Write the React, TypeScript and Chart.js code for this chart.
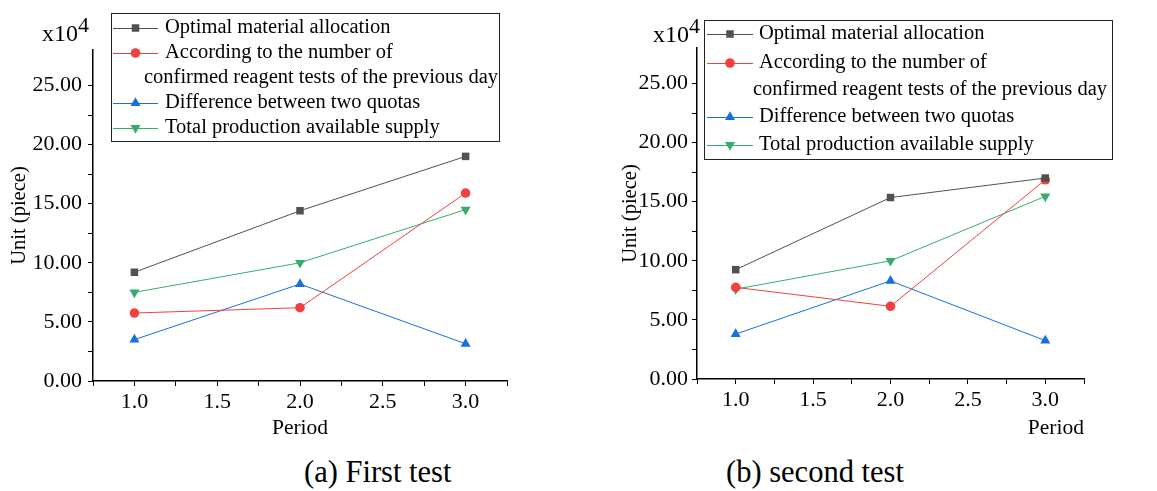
import React, { useEffect, useRef } from 'react';
import { Chart, registerables } from 'chart.js';

Chart.register(...registerables);

// ---------- data ----------
const periods = [1.0, 2.0, 3.0];
const seriesNames = [
  'Optimal material allocation',
  'According to the number of',
  'Difference between two quotas',
  'Total production available supply',
];
const secondLineOfSeries2 = 'confirmed reagent tests of the previous day';

const firstOptimal = [9.2, 14.4, 19.0];
const firstPreviousDay = [5.75, 6.2, 15.9];
const firstDifference = [3.5, 8.2, 3.15];
const firstSupply = [7.5, 10.0, 14.5];

const secondOptimal = [9.25, 15.35, 17.0];
const secondPreviousDay = [7.75, 6.15, 16.85];
const secondDifference = [3.8, 8.3, 3.25];
const secondSupply = [7.6, 10.0, 15.45];

const xTickLabels = ['1.0', '1.5', '2.0', '2.5', '3.0'];
const yTickLabels = ['0.00', '5.00', '10.00', '15.00', '20.00', '25.00'];

const captionA = '(a) First test';
const captionB = '(b) second test';
const xTitle = 'Period';
const yTitle = 'Unit (piece)';

// ---------- styles ----------
const COLORS = ['#515151', '#F14040', '#1A6FDF', '#37AD6B'];
const STYLES = ['rect', 'circle', 'triangle', 'triangle'];
const ROTATIONS = [0, 0, 0, 180];
const RADII = [5.3, 4.8, 5.8, 5.8];
const SERIF = '"Liberation Serif", "Times New Roman", serif';

function drawMarker(ctx: CanvasRenderingContext2D, i: number, x: number, y: number) {
  ctx.save();
  ctx.fillStyle = COLORS[i];
  const r = RADII[i];
  ctx.beginPath();
  if (STYLES[i] === 'rect') {
    const s = Math.SQRT1_2 * r;
    ctx.rect(x - s, y - s, 2 * s, 2 * s);
  } else if (STYLES[i] === 'circle') {
    ctx.arc(x, y, r, 0, Math.PI * 2);
  } else {
    const dir = ROTATIONS[i] === 180 ? -1 : 1;
    const h = Math.sin(Math.PI / 3) * r;
    ctx.moveTo(x, y - dir * r);
    ctx.lineTo(x + h, y + dir * r / 2);
    ctx.lineTo(x - h, y + dir * r / 2);
    ctx.closePath();
  }
  ctx.fill();
  ctx.restore();
}

const boxLegend = {
  id: 'boxLegend',
  afterDraw(chart: any, _args: any, opts: any) {
    const ctx: CanvasRenderingContext2D = chart.ctx;
    const { box, lineX0, lineX1, textX, contX, rows } = opts;
    ctx.save();
    ctx.strokeStyle = '#222';
    ctx.lineWidth = 1;
    ctx.strokeRect(box[0] + 0.5, box[1] + 0.5, box[2], box[3]);
    ctx.font = `20.5px ${SERIF}`;
    ctx.textBaseline = 'middle';
    ctx.fillStyle = '#000';
    const order = [0, 1, -1, 2, 3];
    order.forEach((si, k) => {
      const y = rows[k];
      if (si < 0) {
        ctx.fillStyle = '#000';
        ctx.fillText(secondLineOfSeries2, contX, y);
        return;
      }
      ctx.strokeStyle = COLORS[si];
      ctx.lineWidth = 1;
      ctx.beginPath();
      ctx.moveTo(lineX0, Math.round(y) + 0.5);
      ctx.lineTo(lineX1, Math.round(y) + 0.5);
      ctx.stroke();
      drawMarker(ctx, si, (lineX0 + lineX1) / 2, y);
      ctx.fillStyle = '#000';
      ctx.fillText(seriesNames[si], textX, y);
    });
    ctx.restore();
  },
};

function isMultiple(v: number, step: number) {
  return Math.abs(v / step - Math.round(v / step)) < 1e-6;
}

function makeConfig(values: number[][], p: any): any {
  const tickFont = { family: SERIF, size: 22 };
  return {
    type: 'line',
    data: {
      datasets: values.map((vals, i) => ({
        label: seriesNames[i],
        data: periods.map((x, j) => ({ x, y: vals[j] })),
        borderColor: COLORS[i],
        backgroundColor: COLORS[i],
        borderWidth: 1,
        pointStyle: STYLES[i],
        pointRotation: ROTATIONS[i],
        pointRadius: RADII[i],
        pointBorderWidth: 0,
        pointBackgroundColor: COLORS[i],
        tension: 0,
      })),
    },
    options: {
      responsive: false,
      animation: false,
      devicePixelRatio: 1,
      layout: { padding: p.padding },
      plugins: {
        legend: { display: false },
        tooltip: { enabled: false },
        boxLegend: p.legend,
      },
      scales: {
        x: {
          type: 'linear',
          min: 0.75,
          max: 3.25,
          afterBuildTicks: (s: any) => {
            s.ticks = s.ticks.filter((t: any) => isMultiple(t.value, 0.25));
          },
          afterFit: (s: any) => {
            s.height = p.xHeight;
          },
          ticks: {
            stepSize: 0.25,
            autoSkip: false,
            maxRotation: 0,
            padding: 3,
            color: '#000',
            font: tickFont,
            callback: (v: number) => {
              const idx = xTickLabels.indexOf(Number(v).toFixed(1));
              return isMultiple(v, 0.5) && idx >= 0 ? xTickLabels[idx] : '';
            },
          },
          grid: { drawOnChartArea: false, drawTicks: true, tickLength: 5, tickColor: '#000' },
          border: { display: true, color: '#000', width: 1.5 },
          title: {
            display: true,
            text: xTitle,
            align: p.xTitleAlign,
            color: '#000',
            font: { family: SERIF, size: 21.5 },
            padding: { top: 4, bottom: 4 },
          },
        },
        y: {
          type: 'linear',
          min: 0,
          max: 28,
          afterBuildTicks: (s: any) => {
            s.ticks = s.ticks.filter((t: any) => isMultiple(t.value, 2.5));
          },
          afterFit: (s: any) => {
            s.width = p.yWidth;
          },
          ticks: {
            stepSize: 2.5,
            autoSkip: false,
            padding: p.yTickPad,
            color: '#000',
            font: tickFont,
            callback: (v: number) => {
              const idx = yTickLabels.indexOf(Number(v).toFixed(2));
              return isMultiple(v, 5) && idx >= 0 ? yTickLabels[idx] : '';
            },
          },
          grid: { drawOnChartArea: false, drawTicks: true, tickLength: 5, tickColor: '#000' },
          border: { display: true, color: '#000', width: 1.5 },
          title: {
            display: true,
            text: yTitle,
            color: '#000',
            font: { family: SERIF, size: 20.5 },
            padding: { top: 4, bottom: 4 },
          },
        },
      },
    },
    plugins: [boxLegend],
  };
}

function ChartCanvas(props: { values: number[][]; p: any; left: number; width: number; height: number }) {
  const ref = useRef<HTMLCanvasElement | null>(null);
  useEffect(() => {
    if (!ref.current) return;
    const chart = new Chart(ref.current, makeConfig(props.values, props.p));
    return () => chart.destroy();
  }, []);
  return (
    <canvas
      ref={ref}
      width={props.width}
      height={props.height}
      style={{ position: 'absolute', left: props.left, top: 0, width: props.width, height: props.height }}
    />
  );
}

const textStyle: any = {
  position: 'absolute',
  fontFamily: SERIF,
  color: '#000',
  whiteSpace: 'nowrap',
  lineHeight: 1,
};

function Multiplier(props: { left: number; top: number }) {
  return (
    <div style={{ ...textStyle, left: props.left, top: props.top, fontSize: 24 }}>
      x10<span style={{ fontSize: 22, position: 'relative', top: -9 }}>4</span>
    </div>
  );
}

export default function App() {
  const leftParams = {
    padding: { left: 3, top: 50, right: 53, bottom: 0 },
    yWidth: 90,
    xHeight: 64,
    yTickPad: 6,
    xTitleAlign: 'center',
    legend: {
      box: [111, 13, 388, 128],
      lineX0: 113,
      lineX1: 158,
      textX: 165,
      contX: 144,
      rows: [28, 53, 78, 103, 128],
    },
  };
  const rightParams = {
    padding: { left: 34, top: 48, right: 73, bottom: 0 },
    yWidth: 83,
    xHeight: 66,
    yTickPad: 4,
    xTitleAlign: 'end',
    legend: {
      box: [124, 20, 408, 139],
      lineX0: 127,
      lineX1: 173,
      textX: 179,
      contX: 173,
      rows: [34, 63, 90, 117, 145],
    },
  };
  return (
    <div style={{ position: 'fixed', left: 0, top: 0, width: 1157, height: 491, background: '#fff', overflow: 'hidden' }}>
      <ChartCanvas
        values={[firstOptimal, firstPreviousDay, firstDifference, firstSupply]}
        p={leftParams}
        left={0}
        width={560}
        height={445}
      />
      <ChartCanvas
        values={[secondOptimal, secondPreviousDay, secondDifference, secondSupply]}
        p={rightParams}
        left={580}
        width={577}
        height={445}
      />
      <Multiplier left={42} top={21} />
      <Multiplier left={653} top={22} />
      <div style={{ ...textStyle, left: 304, top: 457, fontSize: 30.5 }}>{captionA}</div>
      <div style={{ ...textStyle, left: 726, top: 457, fontSize: 30.5 }}>{captionB}</div>
    </div>
  );
}
